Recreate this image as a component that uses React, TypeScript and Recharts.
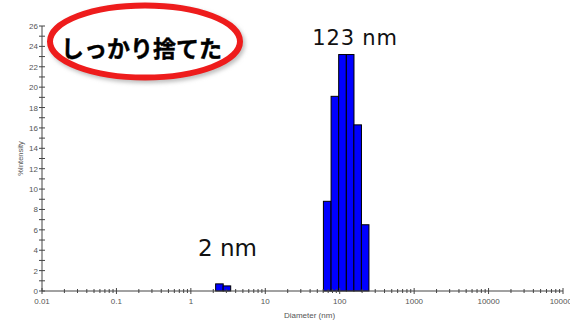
import { BarChart, Bar, XAxis, YAxis, Label } from "recharts";

// bin centres (nm) and % intensity
const DIAMETERS = [2.42, 3.05, 67.9, 86.1, 108.9, 138.2, 174.2, 219.6];
const INTENSITY = [0.7, 0.5, 8.8, 19.1, 23.2, 23.2, 16.3, 6.5];

const Y_TICKS = [0, 1, 2, 3, 4, 5, 6, 7, 8, 9, 10, 11, 12, 13, 14, 15, 16, 17, 18, 19, 20, 21, 22, 23, 24, 25, 26];
const X_MAJOR = [0.01, 0.1, 1, 10, 100, 1000, 10000, 100000];
const X_LABELS = ["0.01", "0.1", "1", "10", "100", "1000", "10000", "100000"];
const MINOR_MULTS = [2, 3, 4, 5, 6, 7, 8, 9];

const X_TICKS = X_MAJOR.flatMap((d, i) =>
  i < X_MAJOR.length - 1 ? [d, ...MINOR_MULTS.map((m) => d * m)] : [d]
);

const data = DIAMETERS.map((d, i) => ({ diameter: d, intensity: INTENSITY[i] }));

const W = 570;
const H = 322;
const BAR_W = 7.6;
const AXIS = "#444";
const TICK_TEXT = "#555";
const FONT = "'Liberation Sans', Arial, sans-serif";

const YTick = (props: any) => {
  const { x, y, payload } = props;
  const v = payload.value;
  return (
    <g>
      <line x1={x - 3} x2={x + 3} y1={y} y2={y} stroke={AXIS} strokeWidth={1} />
      {v % 2 === 0 && (
        <text x={x - 4} y={y} dy={3} textAnchor="end" fontSize={8} fill={TICK_TEXT} fontFamily={FONT}>
          {v}
        </text>
      )}
    </g>
  );
};

const XTick = (props: any) => {
  const { x, y, payload } = props;
  const idx = X_MAJOR.findIndex((m) => Math.abs(m - payload.value) / m < 1e-6);
  const h = idx >= 0 ? 3 : 2;
  return (
    <g>
      <line x1={x} x2={x} y1={y - h} y2={y + h} stroke={AXIS} strokeWidth={1} />
      {idx >= 0 && (
        <text x={x} y={y + 13} textAnchor="middle" fontSize={8} fill={TICK_TEXT} fontFamily={FONT}>
          {X_LABELS[idx]}
        </text>
      )}
    </g>
  );
};

const BinShape = (props: any) => {
  const { x, y, width, height } = props;
  const cx = x + width / 2;
  return (
    <rect x={cx - BAR_W / 2} y={y} width={BAR_W} height={height} fill="#0000FF" stroke="#000" strokeWidth={1} />
  );
};

export default function App() {
  return (
    <div style={{ position: "fixed", left: 0, top: 0, width: W, height: H, background: "#fff" }}>
      <BarChart width={W} height={H} data={data} margin={{ top: 26, right: 7, left: 0, bottom: 0 }}>
        <XAxis
          dataKey="diameter"
          type="number"
          scale="log"
          domain={[0.01, 100000]}
          allowDataOverflow
          ticks={X_TICKS}
          interval={0}
          tick={<XTick />}
          tickSize={0}
          tickMargin={0}
          tickLine={false}
          axisLine={{ stroke: AXIS }}
          height={31}
        >
          <Label value="Diameter (nm)" position="insideBottom" offset={4} dx={7} fontSize={8} fill={TICK_TEXT} fontFamily={FONT} />
        </XAxis>
        <YAxis
          type="number"
          domain={[0, 26]}
          ticks={Y_TICKS}
          interval={0}
          tick={<YTick />}
          tickSize={0}
          tickMargin={0}
          tickLine={false}
          axisLine={{ stroke: AXIS }}
          width={42}
        >
          <Label value="%Intensity" angle={-90} position="center" dx={-1} fontSize={7.5} fill={TICK_TEXT} fontFamily={FONT} />
        </YAxis>
        <Bar dataKey="intensity" isAnimationActive={false} shape={<BinShape />} />
      </BarChart>
      <svg width={W} height={H} style={{ position: "absolute", left: 0, top: 0, pointerEvents: "none" }}>
        <defs>
          <filter id="sh" x="-20%" y="-30%" width="140%" height="160%">
            <feGaussianBlur stdDeviation="2" />
          </filter>
        </defs>
        <ellipse cx={147} cy={44} rx={95} ry={36} fill="none" stroke="#bbb" strokeWidth={6} filter="url(#sh)" />
        <ellipse cx={145} cy={41.5} rx={95} ry={36} fill="#fff" stroke="#EE1C1C" strokeWidth={6} />
        <text
          x={141.5}
          y={47}
          textAnchor="middle"
          dominantBaseline="central"
          fontSize={23}
          fontWeight="bold"
          fill="#000"
          stroke="#000"
          strokeWidth={0.4}
          fontFamily="'Noto Sans CJK JP', sans-serif"
        >
          しっかり捨てた
        </text>
        <text x={355} y={45} textAnchor="middle" fontSize={21} letterSpacing={0.8} fill="#111" fontFamily="'DejaVu Sans', sans-serif">
          123 nm
        </text>
        <text x={227.5} y={255.5} textAnchor="middle" fontSize={23} fill="#111" fontFamily="'DejaVu Sans', sans-serif">
          2 nm
        </text>
      </svg>
    </div>
  );
}
